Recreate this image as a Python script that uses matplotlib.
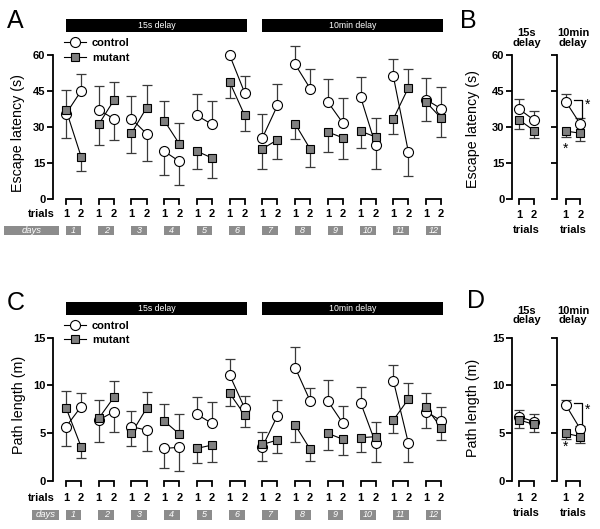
import numpy as np
import matplotlib
matplotlib.use('Agg')
import matplotlib.pyplot as plt
from matplotlib.patches import Rectangle
from matplotlib.lines import Line2D
from matplotlib.transforms import blended_transform_factory

plt.rcParams['font.family'] = ['Liberation Sans', 'DejaVu Sans']

# ---------------- data ----------------
days = np.arange(1, 13)
trials = np.array([1, 2])
delay_labels = ['15s delay', '10min delay']
delay_days = [(1, 6), (7, 12)]

# Panel A: escape latency (s), [trial1, trial2] per day
lat_ctrl = [[35.5, 45.0], [37.2, 33.4], [33.4, 27.2], [19.9, 15.7], [34.8, 31.1], [59.9, 44.2],
            [25.5, 39.0], [56.1, 46.0], [40.4, 31.6], [42.5, 22.3], [51.1, 19.5], [41.4, 37.6]]
lat_ctrl_err = [[10.0, 7.0], [10.0, 9.0], [9.5, 11.5], [9.7, 10.0], [9.0, 9.7], [0.0, 7.2],
                [10.0, 9.0], [7.5, 8.2], [9.6, 10.3], [8.3, 9.9], [7.1, 9.8], [8.9, 9.1]]
lat_mut = [[37.2, 17.7], [31.1, 41.1], [27.4, 38.0], [32.7, 23.0], [19.9, 17.1], [48.7, 34.8],
           [20.9, 24.7], [31.3, 20.8], [27.9, 25.5], [28.3, 25.8], [33.4, 46.4], [40.4, 33.7]]
lat_mut_err = [[8.3, 6.0], [8.5, 7.6], [8.2, 9.7], [8.0, 8.6], [7.4, 8.3], [6.5, 6.3],
               [8.4, 8.0], [6.2, 7.3], [8.4, 8.9], [7.0, 8.0], [6.3, 7.9], [7.7, 7.9]]

# Panel C: path length (m)
path_ctrl = [[5.66, 7.76], [6.36, 7.24], [5.66, 5.31], [3.39, 3.50], [6.96, 6.01], [11.08, 7.59],
             [3.57, 6.82], [11.85, 8.36], [8.36, 6.01], [8.18, 3.92], [10.49, 3.92], [7.24, 6.29]]
path_ctrl_err = [[2.0, 1.4], [2.3, 2.1], [1.6, 2.2], [2.1, 2.45], [1.85, 2.2], [1.65, 1.3],
                 [1.5, 1.6], [2.2, 1.33], [2.2, 1.85], [1.7, 2.0], [1.6, 2.0], [1.75, 1.4]]
path_mut = [[7.66, 3.57], [6.54, 8.74], [4.97, 7.59], [6.26, 4.90], [3.39, 3.74], [9.16, 6.89],
            [3.80, 4.27], [5.84, 3.29], [4.97, 4.34], [4.51, 4.62], [6.36, 8.57], [7.69, 5.56]]
path_mut_err = [[1.7, 1.2], [1.9, 1.7], [1.3, 1.75], [1.8, 2.1], [1.57, 1.8], [1.33, 1.3],
                [1.35, 1.4], [1.8, 1.2], [1.8, 1.6], [1.5, 1.5], [1.4, 1.7], [1.5, 1.3]]

# Panels B / D: summary per delay, [trial1, trial2]
sum_groups = ['15s\ndelay', '10min\ndelay']
lat_sum_ctrl = [[37.4, 32.9], [40.6, 31.1]]
lat_sum_ctrl_err = [[4.1, 3.8], [3.2, 2.8]]
lat_sum_mut = [[32.9, 28.5], [28.3, 27.4]]
lat_sum_mut_err = [[3.7, 3.0], [2.3, 3.2]]
path_sum_ctrl = [[6.70, 6.20], [7.94, 5.39]]
path_sum_ctrl_err = [[0.72, 0.80], [0.53, 0.35]]
path_sum_mut = [[6.37, 5.90], [4.97, 4.62]]
path_sum_mut_err = [[0.81, 0.76], [0.63, 0.63]]

# ---------------- style ----------------
W, H = 600, 529
fig = plt.figure(figsize=(W / 100, H / 100), dpi=100)
EB = '#3a3a3a'
GREY = '#7f7f7f'
BOX = '#8c8c8c'
SPW = 1.3


def add_ax(l, r, t, b):
    ax = fig.add_axes([l / W, 1 - b / H, (r - l) / W, (b - t) / H])
    ax._px = (l, r, t, b)
    return ax


def fy(ax, py):
    l, r, t, b = ax._px
    return (b - py) / (b - t)


def fx(ax, px):
    l, r, t, b = ax._px
    return (px - l) / (r - l)


def style_y(ax, ymax, step, labels=True):
    for s in ['top', 'right', 'bottom']:
        ax.spines[s].set_visible(False)
    ax.spines['left'].set_linewidth(SPW)
    ax.set_ylim(0, ymax)
    ax.set_yticks(np.arange(0, ymax + 0.01, step))
    ax.tick_params(axis='y', direction='out', length=4, width=SPW, pad=1.5,
                   labelsize=8, labelleft=labels)
    for t in ax.get_yticklabels():
        t.set_fontweight('bold')
    ax.set_xticks([])


def draw_series(ax, xs, y, err, direc, marker, face, ms, z):
    xs = np.asarray(xs, float); y = np.asarray(y, float); err = np.asarray(err, float)
    for i in range(xs.shape[0]):
        ax.plot(xs[i], y[i], color='black', lw=0.8, zorder=2, clip_on=False)
    ends = y + direc * err
    m = err.ravel() > 0
    ax.vlines(xs.ravel()[m], y.ravel()[m], ends.ravel()[m], color=EB, lw=0.9, zorder=1,
              clip_on=False)
    ax.plot(xs.ravel()[m], ends.ravel()[m], ls='none', marker='_', ms=7, mew=0.9,
            color=EB, zorder=1, clip_on=False)
    ax.plot(xs.ravel(), y.ravel(), ls='none', marker=marker, ms=ms, mfc=face,
            mec='black', mew=0.8, zorder=z, clip_on=False)


def brackets(ax, xs):
    tr = blended_transform_factory(ax.transData, ax.transAxes)
    leg = 5 / (ax._px[3] - ax._px[2])
    for x1, x2 in xs:
        ax.plot([x1, x1, x2, x2], [-leg, 0, 0, -leg], color='black', lw=1.3,
                transform=tr, clip_on=False, solid_joinstyle='miter')


def main_panel(ax, ctrl, cerr, mut, merr, ymax, step, ylabel, rows):
    ctrl = np.asarray(ctrl); mut = np.asarray(mut)
    xs = days[:, None] + (trials[None, :] - 1.5) * 0.46
    style_y(ax, ymax, step)
    ax.set_xlim(0.373, 12.5)
    dc = np.where(ctrl >= mut, 1, -1)
    draw_series(ax, xs, ctrl, cerr, dc, 'o', 'white', 7.2, 3)
    draw_series(ax, xs, mut, merr, -dc, 's', GREY, 6.3, 4)
    brackets(ax, xs)
    tr = blended_transform_factory(ax.transData, ax.transAxes)
    trow, dtop, dbot, dleft = rows
    for i, d in enumerate(days):
        for j in range(2):
            ax.text(xs[i, j], fy(ax, trow), str(trials[j]), transform=tr, ha='center',
                    va='center', fontsize=8, fontweight='bold')
        ax.add_patch(Rectangle((d - 0.24, fy(ax, dbot)), 0.48, fy(ax, dtop) - fy(ax, dbot),
                               transform=tr, color=BOX, clip_on=False, lw=0))
        ax.text(d, fy(ax, (dtop + dbot) / 2), str(d), transform=tr, ha='center', va='center',
                fontsize=6.5, style='italic', color='white')
    fig.text(55 / W, 1 - trow / H, 'trials', ha='right', va='center', fontsize=8,
             fontweight='bold')
    fig.add_artist(Rectangle((dleft / W, 1 - dbot / H), (59 - dleft) / W, (dbot - dtop) / H,
                             transform=fig.transFigure, color=BOX, lw=0))
    fig.text((dleft + 59) / 2 / W, 1 - (dtop + dbot) / 2 / H, 'days', ha='center',
             va='center', fontsize=6.8, style='italic', color='white')
    # delay bars
    for lab, (d0, d1) in zip(delay_labels, delay_days):
        x0 = xs[d0 - 1, 0]
        x1 = xs[d1 - 1, 1] + 0.07
        ax.add_patch(Rectangle((x0, fy(ax, ax._px[2] - 23)), x1 - x0,
                               fy(ax, ax._px[2] - 36) - fy(ax, ax._px[2] - 23),
                               transform=tr, color='black', clip_on=False, lw=0))
        ax.text((x0 + x1) / 2, fy(ax, ax._px[2] - 29.5), lab, transform=tr, ha='center',
                va='center', color='white', fontsize=6.3)
    ax.set_ylabel(ylabel, fontsize=10.3)
    ax.legend(handles=[Line2D([0], [0], color='black', lw=0.8, marker='o', ms=7.2,
                              mfc='white', mec='black', mew=0.8),
                       Line2D([0], [0], color='black', lw=0.8, marker='s', ms=6.3,
                              mfc=GREY, mec='black', mew=0.8)],
              labels=['control', 'mutant'], loc='upper left',
              bbox_to_anchor=(fx(ax, 64), fy(ax, ax._px[2] - 17)), frameon=False,
              handlelength=2.0, handletextpad=0.5, labelspacing=0.42, borderpad=0,
              borderaxespad=0, prop={'weight': 'bold', 'size': 8})


def sum_panel(axs, ctrl, cerr, mut, merr, ymax, step, ylabel, title_y, trow, lrow, star_y):
    for k, ax in enumerate(axs):
        style_y(ax, ymax, step, labels=(k == 0))
        ax.set_xlim(0.5 if k == 0 else 0.4, 2.75 if k == 0 else 2.65)
        c = np.asarray(ctrl[k])[None, :]
        m = np.asarray(mut[k])[None, :]
        xs = trials[None, :].astype(float)
        dc = np.where(c >= m, 1, -1)
        draw_series(ax, xs, c, np.asarray(cerr[k])[None, :], dc, 'o', 'white', 7.2, 3)
        draw_series(ax, xs, m, np.asarray(merr[k])[None, :], -dc, 's', GREY, 6.3, 4)
        brackets(ax, xs)
        tr = blended_transform_factory(ax.transData, ax.transAxes)
        for j in range(2):
            ax.text(trials[j], fy(ax, trow), str(trials[j]), transform=tr, ha='center',
                    va='center', fontsize=8, fontweight='bold')
        ax.text(1.5, fy(ax, lrow), 'trials', transform=tr, ha='center', va='center',
                fontsize=8, fontweight='bold')
        ax.text(1.5, fy(ax, title_y), sum_groups[k], transform=tr, ha='center',
                va='center', fontsize=8, fontweight='bold', linespacing=0.95)
    ax = axs[1]
    # significance marks
    c = np.asarray(ctrl[1])
    ytop = c[0] + ymax * 0.012
    ybot = c[1] + cerr[1][1]
    ax.plot([1.56, 2.08, 2.08], [ytop, ytop, ybot], color='black', lw=0.9, clip_on=False)
    ax.text(2.47, ybot + 0.7 * (ytop - ybot), '*', ha='center', va='center', fontsize=10)
    ax.text(1.0, star_y, '*', ha='center', va='center', fontsize=10)
    axs[0].set_ylabel(ylabel, fontsize=10.3)


# ---------------- axes ----------------
axA = add_ax(53, 450, 55, 199)
axC = add_ax(53, 450, 337.7, 480.7)
axB1 = add_ax(512, 545, 55, 199)
axB2 = add_ax(557, 590, 55, 199)
axD1 = add_ax(512, 545, 337.7, 480.7)
axD2 = add_ax(557, 590, 337.7, 480.7)

main_panel(axA, lat_ctrl, lat_ctrl_err, lat_mut, lat_mut_err, 60, 15,
           'Escape latency (s)', (214, 226, 235, 4))
main_panel(axC, path_ctrl, path_ctrl_err, path_mut, path_mut_err, 15, 5,
           'Path length (m)', (497.7, 509.5, 520, 32))
axA.yaxis.set_label_coords(fx(axA, 25), 0.46)
axC.yaxis.set_label_coords(fx(axC, 26), 0.53)

sum_panel([axB1, axB2], lat_sum_ctrl, lat_sum_ctrl_err, lat_sum_mut, lat_sum_mut_err,
          60, 15, 'Escape latency (s)', 38, 215, 230, 21.0)
sum_panel([axD1, axD2], path_sum_ctrl, path_sum_ctrl_err, path_sum_mut, path_sum_mut_err,
          15, 5, 'Path length (m)', 315.5, 498, 513, 3.6)
axB1.yaxis.set_label_coords(fx(axB1, 480), 0.486)
axD1.yaxis.set_label_coords(fx(axD1, 480), 0.51)

for lab, x, y in [('A', 7, 28), ('B', 460, 28), ('C', 7, 310), ('D', 467, 308)]:
    fig.text(x / W, 1 - y / H, lab, fontsize=18, ha='left', va='baseline')

fig.savefig('out.png', dpi=100)
